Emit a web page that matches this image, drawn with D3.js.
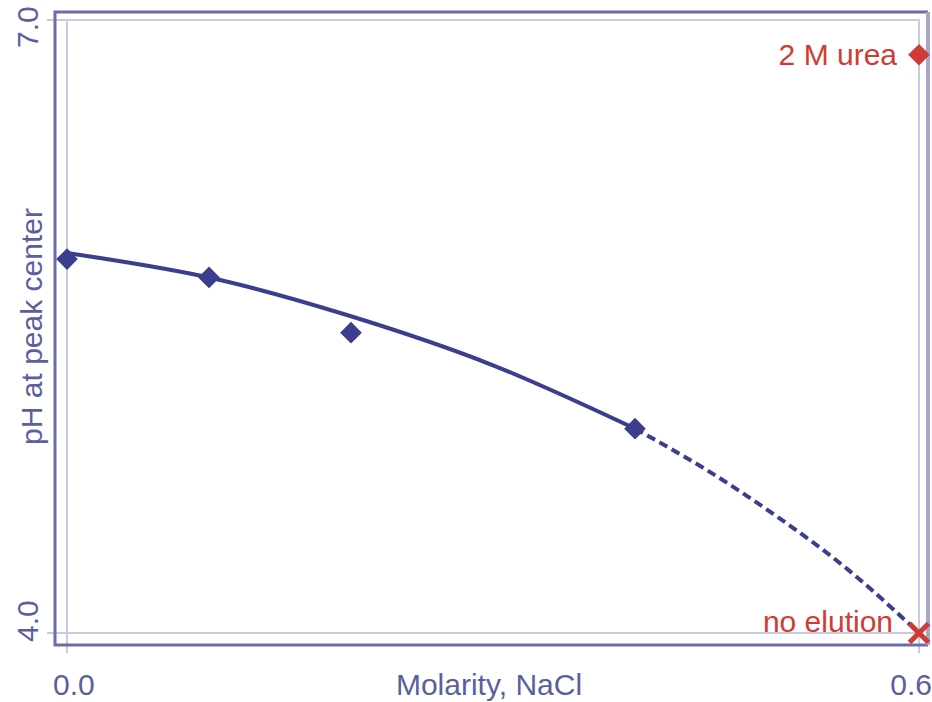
<!DOCTYPE html>
<html>
<head>
<meta charset="utf-8">
<script src="https://cdn.jsdelivr.net/npm/d3@7"></script>
<style>
  body { margin: 0; background: #fff; }
  text { font-family: "Liberation Sans", Arial, sans-serif; }
</style>
</head>
<body>
<div id="chart"></div>
<script>
// measured points
const molarity = [0.0, 0.1, 0.2, 0.4];
const phPeak = [5.83, 5.74, 5.47, 5.0];

// fitted curve
const fitX = [0.0, 0.1, 0.2, 0.3, 0.4];
const fitPh = [5.86, 5.74, 5.55, 5.31, 5.0];
const extX = [0.4, 0.45, 0.5, 0.55, 0.6];
const extPh = [5.0, 4.8, 4.57, 4.31, 4.0];

// special cases
const specialX = [0.6, 0.6];
const specialPh = [6.83, 4.0];
const specialLabels = ["2 M urea", "no elution"];

const xTicks = [0.0, 0.6];
const yTicks = [4.0, 7.0];

const navy = "#3b3e8e";
const textBlue = "#5b5f9e";
const red = "#d13b35";
const pale = "#c9c9e2";
const fontSize = 30;

const svg = d3.select("#chart")
  .append("svg")
  .attr("width", 932)
  .attr("height", 702);

const x = d3.scaleLinear().domain([0, 0.6]).range([67, 919]);
const y = d3.scaleLinear().domain([4, 7]).range([633, 20]);

// pale grid / tick lines
yTicks.forEach(t => {
  svg.append("line")
    .attr("x1", 47).attr("x2", x(0.6) + 1)
    .attr("y1", y(t)).attr("y2", y(t))
    .attr("stroke", pale).attr("stroke-width", 2);
});
xTicks.forEach(t => {
  svg.append("line")
    .attr("x1", x(t)).attr("x2", x(t))
    .attr("y1", y(7)).attr("y2", 653)
    .attr("stroke", pale).attr("stroke-width", 2);
});

// frame
svg.append("path")
  .attr("d", d3.line()([[928, 12], [55, 12], [55, 645], [928, 645]]))
  .attr("fill", "none")
  .attr("stroke", "#6b6dab")
  .attr("stroke-width", 3);
svg.append("line")
  .attr("x1", 928).attr("x2", 928)
  .attr("y1", 12).attr("y2", 645)
  .attr("stroke", "#a5a6cf")
  .attr("stroke-width", 4);

// fitted curve
const line = d3.line()
  .x(d => x(d[0]))
  .y(d => y(d[1]))
  .curve(d3.curveNatural);

svg.append("path")
  .attr("d", line(fitX.map((v, i) => [v, fitPh[i]])))
  .attr("fill", "none")
  .attr("stroke", navy)
  .attr("stroke-width", 4);

svg.append("path")
  .attr("d", line(extX.map((v, i) => [v, extPh[i]])))
  .attr("fill", "none")
  .attr("stroke", navy)
  .attr("stroke-width", 4)
  .attr("stroke-dasharray", "9,5");

// points
const diamond = d3.symbol().type(d3.symbolDiamond2).size(300);

svg.selectAll(".pt")
  .data(molarity.map((v, i) => [v, phPeak[i]]))
  .enter()
  .append("path")
  .attr("class", "pt")
  .attr("d", diamond)
  .attr("transform", d => `translate(${x(d[0])},${y(d[1])})`)
  .attr("fill", navy);

// 2 M urea
svg.append("path")
  .attr("d", diamond)
  .attr("transform", `translate(${x(specialX[0])},${y(specialPh[0])})`)
  .attr("fill", red);

svg.append("text")
  .text(specialLabels[0])
  .attr("x", 897)
  .attr("y", y(specialPh[0]) + 10)
  .attr("text-anchor", "end")
  .attr("font-size", fontSize)
  .attr("fill", red);

// no elution
svg.append("path")
  .attr("d", d3.symbol().type(d3.symbolX).size(240))
  .attr("transform", `translate(${x(specialX[1])},${y(specialPh[1])})`)
  .attr("fill", "none")
  .attr("stroke", red)
  .attr("stroke-width", 5);

svg.append("text")
  .text(specialLabels[1])
  .attr("x", 893)
  .attr("y", y(specialPh[1]) - 1)
  .attr("text-anchor", "end")
  .attr("font-size", fontSize)
  .attr("fill", red);

// axis labels
svg.append("text")
  .text(d3.format(".1f")(xTicks[0]))
  .attr("x", 53)
  .attr("y", 695)
  .attr("font-size", fontSize)
  .attr("fill", textBlue);

svg.append("text")
  .text(d3.format(".1f")(xTicks[1]))
  .attr("x", 932)
  .attr("y", 695)
  .attr("text-anchor", "end")
  .attr("font-size", fontSize)
  .attr("fill", textBlue);

svg.append("text")
  .text("Molarity, NaCl")
  .attr("x", 489)
  .attr("y", 695)
  .attr("text-anchor", "middle")
  .attr("font-size", fontSize)
  .attr("fill", textBlue);

svg.append("text")
  .text(d3.format(".1f")(yTicks[1]))
  .attr("transform", `translate(38,${y(7) + 28}) rotate(-90)`)
  .attr("font-size", fontSize)
  .attr("fill", textBlue);

svg.append("text")
  .text(d3.format(".1f")(yTicks[0]))
  .attr("transform", `translate(38,${y(4) + 9}) rotate(-90)`)
  .attr("font-size", fontSize)
  .attr("fill", textBlue);

svg.append("text")
  .text("pH at peak center")
  .attr("transform", `translate(42,${(y(4) + y(7)) / 2}) rotate(-90)`)
  .attr("text-anchor", "middle")
  .attr("font-size", fontSize)
  .attr("fill", textBlue);
</script>
</body>
</html>
